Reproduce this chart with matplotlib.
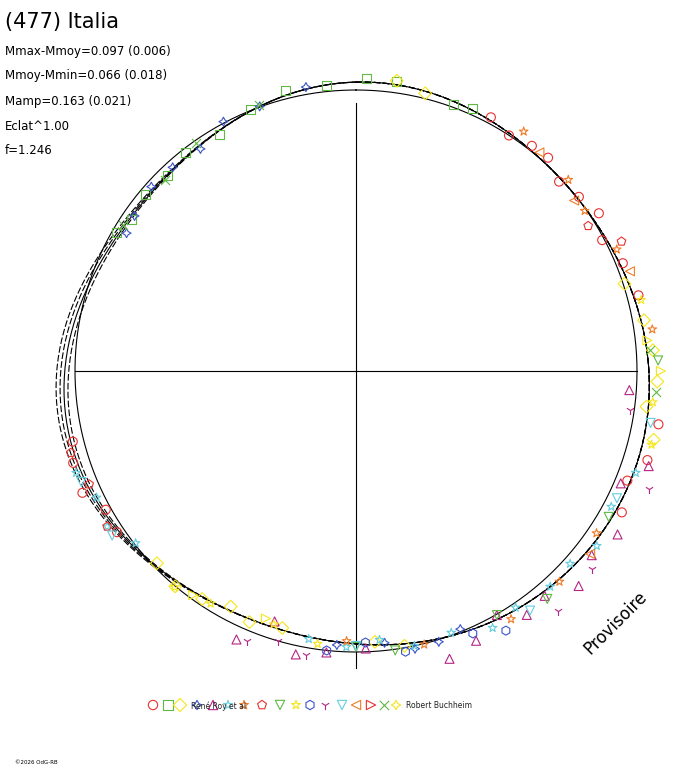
import matplotlib
matplotlib.use('Agg')
import matplotlib.pyplot as plt
import numpy as np

# centre of the polar plot and reference circle radius (pixels)
cx, cy = 356, 371
r_ref = 281

# model curve radius read at every 30 deg (clockwise from top)
curve_ang = [0, 30, 60, 90, 120, 150, 180, 210, 240, 270, 300, 330]
curve_r = [286, 285, 282, 293, 294, 288, 269, 277, 282, 298, 268, 281]
# extra spread of the alternative (dashed) solutions on the left side
curve_spread = [0, -4, 4, 8]

# observations: (colour, marker, phases in deg, radius offsets)
series = [
    ('#e8312f', 'o', [28, 33, 38, 42, 47, 52, 57, 62, 68, 75, 100, 107, 112, 118, 236, 241, 246, 252, 256],
                     [3, -2, 4, 6, -3, 2, 8, -4, 3, 5, 12, 9, -3, 6, 2, -3, 8, 4, -2]),
    ('#5fb944', 's', [300, 304, 310, 316, 322, 330, 338, 346, 354, 2, 8, 20, 24],
                     [2, -2, 3, 0, 4, -3, 2, 5, -1, 4, 3, -3, 2]),
    ('#f5e61a', 'D', [72, 80, 86, 92, 97, 103, 196, 203, 208, 214, 220, 226, 170, 176, 8, 14],
                     [-4, 3, 6, 8, -2, 10, -2, 3, -4, 2, 5, -3, 2, -3, 4, -2]),
    ('#3a54c8', (4, 1, 0), [301, 305, 312, 318, 325, 332, 340, 350, 158, 163, 168, 174, 184],
                     [-6, -2, 4, 2, -3, 5, 0, 2, -4, 3, 6, -2, 3]),
    ('#b52585', '^', [94, 108, 113, 122, 128, 134, 140, 145, 150, 156, 162, 178, 186, 192, 198, 204],
                     [-20, 12, -8, 14, 6, 18, 4, 10, -4, 12, 22, 4, 12, 20, -6, 24]),
    ('#66cde0', '*', [110, 118, 126, 132, 138, 146, 152, 160, 168, 175, 182, 190, 232, 238, 244, 250],
                     [2, -6, 4, -4, 0, -2, 6, -3, 3, -5, 4, 2, -4, 6, -2, 5]),
    ('#f07c26', '*', [35, 48, 55, 65, 82, 124, 136, 148, 166, 182],
                     [10, 5, -2, 4, 9, -4, 2, 6, 3, -2]),
    ('#e8312f', 'p', [58, 64, 238, 247, 254],
                     [-8, 12, 6, -2, 3]),
    ('#5fb944', 'v', [88, 120, 140, 150, 172, 180],
                     [10, -3, 8, -4, 6, 3]),
    ('#f5e61a', '*', [76, 96, 104, 188, 198, 212, 220],
                     [6, 4, 9, 5, -3, 2, 6]),
    ('#3a54c8', 'h', [150, 156, 170, 178, 186],
                     [14, 4, 8, -2, 10]),
    ('#b52585', '1', [98, 112, 130, 140, 190, 196, 202],
                     [-18, 20, 16, 24, 18, 12, 22]),
    ('#66cde0', 'v', [100, 116, 144, 180, 236, 248],
                     [4, -5, 8, 2, 8, 4]),
    ('#f07c26', '<', [40, 52, 70, 128],
                     [4, -4, 6, 4]),
    ('#5fb944', 'x', [302, 315, 325, 340, 86, 94],
                     [2, -2, 4, 1, 3, 7]),
    ('#f5e61a', '>', [84, 90, 200, 216],
                     [2, 12, -6, 3]),
]

legend_labels = ['René Roy et al', 'Robert Buchheim']

fig = plt.figure(figsize=(6.88, 7.68), dpi=100)
ax = fig.add_axes([0, 0, 1, 1])
ax.set_xlim(0, 688)
ax.set_ylim(768, 0)
ax.axis('off')


def to_xy(ang_deg, r):
    a = np.radians(ang_deg)
    return cx + r * np.sin(a), cy - r * np.cos(a)


# reference circle and axes
t = np.linspace(0, 360, 400)
x, y = to_xy(t, r_ref)
ax.plot(x, y, color='black', lw=0.8)
ax.plot([cx - r_ref, cx + r_ref], [cy, cy], color='black', lw=0.8)
ax.plot([cx, cx], [103, 668], color='black', lw=0.8)

# model curves: fit Fourier series to the read radii
ca = np.radians(curve_ang)
A = np.column_stack([np.ones_like(ca)] + [f(k * ca) for k in range(1, 5) for f in (np.cos, np.sin)])
coef, *_ = np.linalg.lstsq(A, np.array(curve_r, float), rcond=None)
tt = np.radians(t)
At = np.column_stack([np.ones_like(tt)] + [f(k * tt) for k in range(1, 5) for f in (np.cos, np.sin)])
rc = At @ coef
bump = np.exp(-((t - 270) / 35.0) ** 2)
for i, s in enumerate(curve_spread):
    x, y = to_xy(t, rc + s * bump)
    ax.plot(x, y, color='black', lw=0.8, ls='-' if i == 0 else (0, (6, 2)))

# observations
for col, mk, ph, off in series:
    ph = np.array(ph, float)
    ri = np.interp(ph, t, rc) + np.array(off, float)
    x, y = to_xy(ph, ri)
    ax.scatter(x, y, marker=mk, s=42, facecolors='none' if mk not in ('1', 'x') else col,
               edgecolors=col, linewidths=0.8, zorder=3)

# legend strip
leg_x = [153, 168, 180, 197, 213, 228, 244, 262, 280, 296, 310, 325, 342, 356, 371, 384, 396]
leg_mk = ['o', 's', 'D', (4, 1, 0), '^', '*', '*', 'p', 'v', '*', 'h', '1', 'v', '<', '>', 'x', (4, 1, 90)]
leg_col = ['#e8312f', '#5fb944', '#f5e61a', '#3a54c8', '#b52585', '#66cde0', '#f07c26', '#e8312f',
           '#5fb944', '#f5e61a', '#3a54c8', '#b52585', '#66cde0', '#f07c26', '#e8312f', '#5fb944', '#f5e61a']
for lx, lm, lc in zip(leg_x, leg_mk, leg_col):
    ax.scatter(lx, 705, marker=lm, s=45, facecolors='none' if lm not in ('1', 'x') else lc,
               edgecolors=lc, linewidths=0.8)
ax.text(191, 706, legend_labels[0], fontsize=5.5, va='center', color='#222222')
ax.text(406, 706, legend_labels[1], fontsize=5.5, va='center', color='#222222')

# titles and stats
ax.text(5, 22, '(477) Italia', fontsize=15, va='center')
stats = ['Mmax-Mmoy=0.097 (0.006)', 'Mmoy-Mmin=0.066 (0.018)', 'Mamp=0.163 (0.021)', 'Eclat^1.00', 'f=1.246']
for i, s in enumerate(stats):
    ax.text(5, 51 + i * 25, s, fontsize=8.5, va='center')
ax.text(616, 623, 'Provisoire', fontsize=12, rotation=45, ha='center', va='center')
ax.text(15, 762, '©2026 OdG-RB', fontsize=4, va='center')

fig.savefig('out.png', dpi=100)
